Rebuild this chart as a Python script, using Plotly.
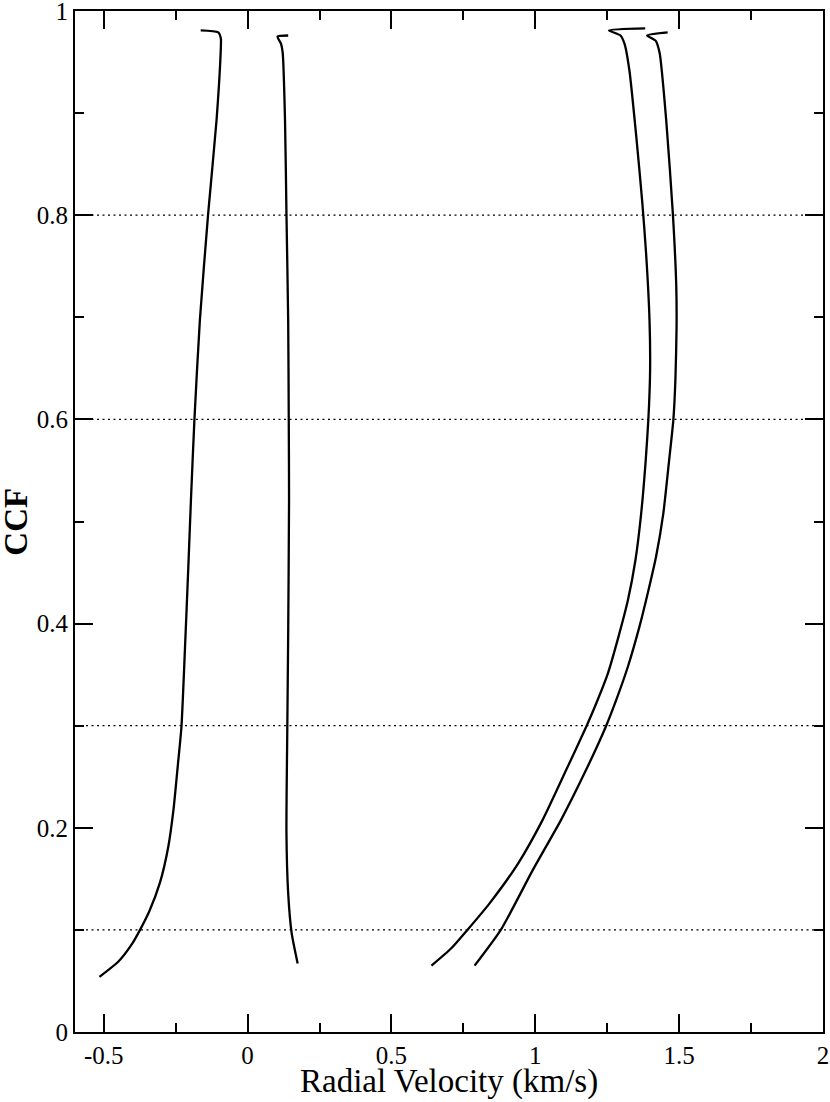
import plotly.graph_objects as go

# ---- data ----
curve_a_x = [-0.515, -0.449, -0.400, -0.374, -0.342, -0.305, -0.276, -0.258, -0.243, -0.230,
             -0.218, -0.206, -0.197, -0.185, -0.166, -0.137, -0.108, -0.093, -0.093, -0.102, -0.163]
curve_a_y = [0.054, 0.069, 0.087, 0.100, 0.118, 0.146, 0.181, 0.217, 0.260, 0.299,
             0.374, 0.456, 0.521, 0.599, 0.697, 0.802, 0.893, 0.965, 0.973, 0.979, 0.981]

curve_b_x = [0.174, 0.153, 0.141, 0.135, 0.138, 0.141, 0.144, 0.143, 0.141, 0.135,
             0.130, 0.122, 0.116, 0.104, 0.141]
curve_b_y = [0.067, 0.097, 0.136, 0.195, 0.299, 0.390, 0.521, 0.599, 0.697, 0.802,
             0.893, 0.959, 0.968, 0.975, 0.976]

curve_c_x = [0.639, 0.708, 0.764, 0.841, 0.940, 1.026, 1.108, 1.177, 1.212, 1.252,
             1.289, 1.322, 1.348, 1.368, 1.383, 1.393, 1.399, 1.397, 1.385, 1.372,
             1.351, 1.327, 1.310, 1.296, 1.256, 1.382]
curve_c_y = [0.065, 0.082, 0.100, 0.126, 0.165, 0.208, 0.257, 0.299, 0.322, 0.351,
             0.387, 0.423, 0.462, 0.508, 0.557, 0.600, 0.648, 0.697, 0.763, 0.812,
             0.877, 0.942, 0.968, 0.976, 0.981, 0.983]

curve_d_x = [0.789, 0.880, 0.992, 1.090, 1.177, 1.245, 1.281, 1.322, 1.362, 1.391,
             1.420, 1.445, 1.464, 1.480, 1.487, 1.491, 1.490, 1.478, 1.455, 1.432,
             1.418, 1.389, 1.460]
curve_d_y = [0.065, 0.100, 0.159, 0.208, 0.257, 0.299, 0.325, 0.358, 0.397, 0.430,
             0.466, 0.508, 0.557, 0.600, 0.639, 0.690, 0.730, 0.802, 0.893, 0.959,
             0.971, 0.976, 0.979]

ref_levels = [0.1, 0.3, 0.6, 0.8]

x_tickvals = [-0.5, 0, 0.5, 1, 1.5, 2]
x_ticktext = ["-0.5", "0", "0.5", "1", "1.5", "2"]
x_minor = [-0.25, 0.25, 0.75, 1.25, 1.75]
y_tickvals = [0, 0.2, 0.4, 0.6, 0.8, 1]
y_ticktext = ["0", "0.2", "0.4", "0.6", "0.8", "1"]
y_minor = [0.1, 0.3, 0.5, 0.7, 0.9]

x_range = [-0.6, 2]
y_range = [0, 1]

x_title = "Radial Velocity (km/s)"
y_title = "<b>CCF</b>"

# ---- figure ----
FONT = "Liberation Serif, Times New Roman, serif"
fig = go.Figure()
for xs, ys in [(curve_a_x, curve_a_y), (curve_b_x, curve_b_y),
               (curve_c_x, curve_c_y), (curve_d_x, curve_d_y)]:
    fig.add_trace(go.Scatter(x=xs, y=ys, mode="lines",
                             line=dict(color="black", width=2.3, shape="spline", smoothing=0.6),
                             showlegend=False, hoverinfo="skip"))

for lv in ref_levels:
    fig.add_shape(type="line", xref="x", yref="y", x0=x_range[0], x1=x_range[1],
                  y0=lv, y1=lv, line=dict(color="black", width=1.3, dash="2px,3.5px"),
                  layer="below")

axis_common = dict(
    showgrid=False, zeroline=False, showline=True, linecolor="black", linewidth=2,
    mirror="ticks", ticks="inside", ticklen=18, tickwidth=2, tickcolor="black",
    tickfont=dict(family=FONT, size=25, color="black"), automargin=False,
    ticklabeloverflow="allow",
)

fig.update_xaxes(range=x_range, tickmode="array", tickvals=x_tickvals, ticktext=x_ticktext,
                 minor=dict(tickmode="array", tickvals=x_minor, ticks="inside",
                            ticklen=9, tickwidth=2, tickcolor="black"),
                 **axis_common)
fig.update_yaxes(range=y_range, tickmode="array", tickvals=y_tickvals, ticktext=y_ticktext,
                 minor=dict(tickmode="array", tickvals=y_minor, ticks="inside",
                            ticklen=9, tickwidth=2, tickcolor="black"),
                 **axis_common)

fig.add_annotation(text=x_title, xref="paper", yref="paper", x=0.4995, y=-0.048,
                   xanchor="center", yanchor="middle", showarrow=False,
                   font=dict(family=FONT, size=33, color="black"))
fig.add_annotation(text=y_title, xref="paper", yref="paper", x=-0.080, y=0.5,
                   xanchor="center", yanchor="middle", showarrow=False, textangle=-90,
                   font=dict(family=FONT, size=33, color="black"))

fig.update_layout(
    width=830, height=1102,
    margin=dict(l=75, r=7, t=11, b=70),
    paper_bgcolor="white", plot_bgcolor="white",
    showlegend=False,
)

fig.write_html("out.html", config={"displayModeBar": False},
               post_script="document.body.style.margin='0';")
